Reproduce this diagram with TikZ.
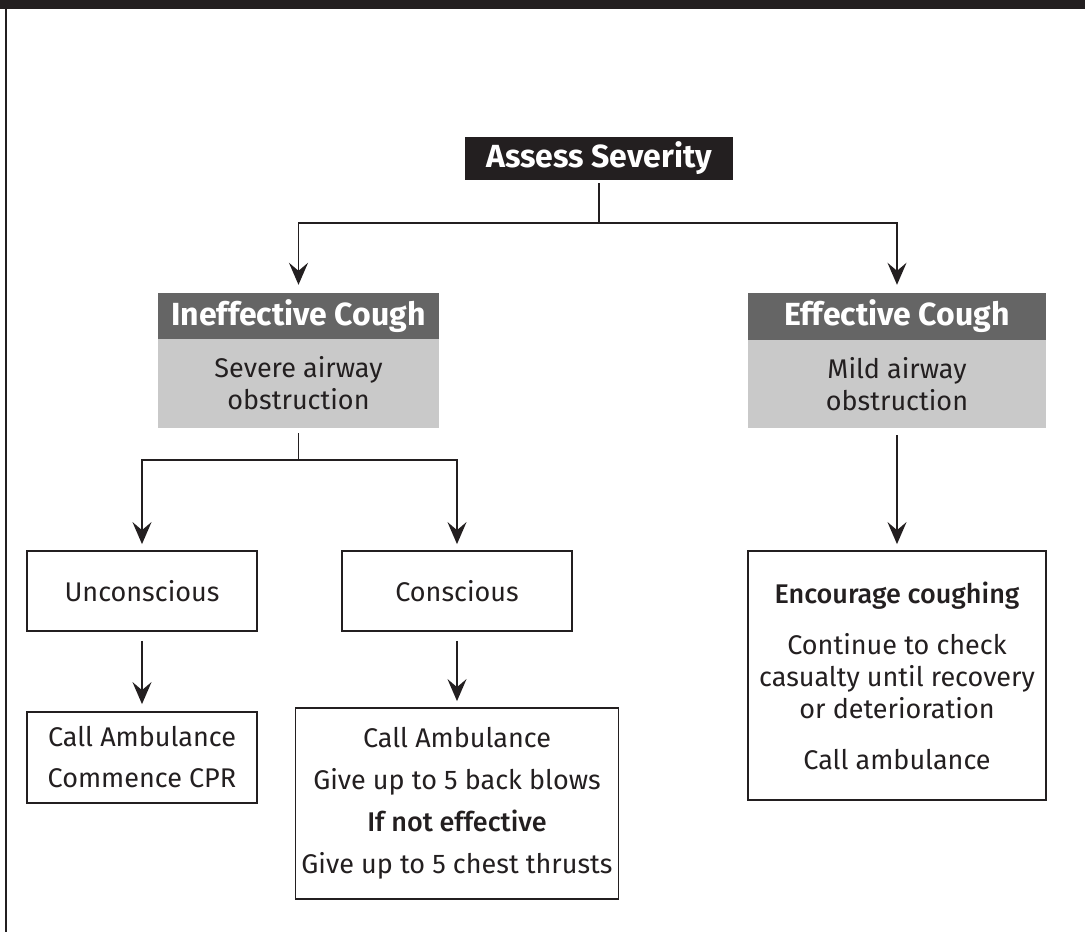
\documentclass[tikz,border=0pt]{standalone}
\usepackage{fontspec}
\setmainfont{Fira Sans}
\newfontfamily\medfont{Fira Sans Medium}
\usetikzlibrary{arrows.meta}
\definecolor{ink}{HTML}{231F20}
\definecolor{headgray}{HTML}{656565}
\definecolor{bodygray}{HTML}{C9C9C9}
\tikzset{
  txt/.style={font=\fontsize{27}{32}\selectfont, text=ink, align=center},
  boldhead/.style={font=\fontsize{32}{38}\selectfont\bfseries, text=white},
  headbox/.style={fill=headgray, inner sep=0pt, boldhead},
  bodybox/.style={fill=bodygray, inner sep=0pt, txt},
  stepbox/.style={draw=ink, line width=1.8pt, fill=white, inner sep=0pt, txt},
  conn/.style={draw=ink, line width=1.8pt},
  arr/.style={conn, -{Stealth[length=22pt,width=19pt,inset=8pt]}},
}
\begin{document}
\begin{tikzpicture}[x=1pt,y=-1pt]
\useasboundingbox (0,0) rectangle (1085,932);
\fill[ink] (0,0) rectangle (1085,9);
\draw[ink, line width=2pt] (6,9) -- (6,932);

\node[fill=ink, minimum width=268pt, minimum height=43pt, inner sep=0pt, boldhead] (assess) at (599,158.5) {Assess Severity};

\node[headbox, minimum width=281pt, minimum height=46pt] (ineffh) at (298.5,316) {Ineffective Cough};
\node[bodybox, minimum width=281pt, minimum height=89pt] (ineffb) at (298.5,383.5) {Severe airway\\obstruction};

\node[headbox, minimum width=298pt, minimum height=47pt] (effh) at (897,316.5) {Effective Cough};
\node[bodybox, minimum width=298pt, minimum height=88pt] (effb) at (897,384) {Mild airway\\obstruction};

\node[stepbox, minimum width=230pt, minimum height=80pt] (uncon) at (142,591) {Unconscious};
\node[stepbox, minimum width=230pt, minimum height=80pt] (cons) at (457,591) {Conscious};

\node[stepbox, minimum width=230pt, minimum height=91pt] (ucpr) at (142,757.5) {Call Ambulance\\[9pt]Commence CPR};
\node[stepbox, minimum width=323pt, minimum height=191pt] (cons2) at (457,803.5) {Call Ambulance\\[10pt]Give up to 5 back blows\\[10pt]{\medfont If not effective}\\[10pt]Give up to 5 chest thrusts};

\node[stepbox, minimum width=298pt, minimum height=249pt] (effbox) at (897,675.5) {{\medfont Encourage coughing}\\[19pt]Continue to check\\casualty until recovery\\or deterioration\\[19pt]Call ambulance};

\coordinate (j1) at (599,223);
\draw[conn, shorten <=3pt] (assess.south) -- (j1);
\draw[arr, shorten >=8pt] (j1) -| (ineffh.north);
\draw[arr, shorten >=8pt] (j1) -| (effh.north);

\coordinate (j2) at (298.5,460);
\draw[conn, shorten <=5pt] (ineffb.south) -- (j2);
\draw[arr, shorten >=6pt] (j2) -| (uncon.north);
\draw[arr, shorten >=6pt] (j2) -| (cons.north);

\draw[arr, shorten <=7pt, shorten >=6pt] (effb.south) -- (effbox.north);
\draw[arr, shorten <=9pt, shorten >=7pt] (uncon.south) -- (ucpr.north);
\draw[arr, shorten <=9pt, shorten >=6pt] (cons.south) -- (cons2.north);
\end{tikzpicture}
\end{document}
